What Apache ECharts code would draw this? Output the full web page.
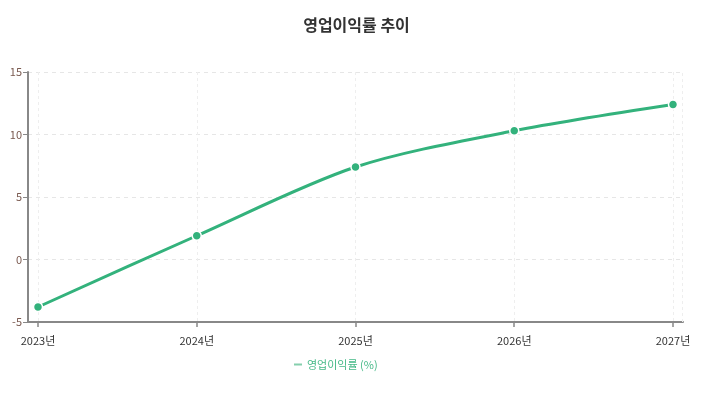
<!DOCTYPE html>
<html>
<head>
<meta charset="utf-8">
<script src="https://cdn.jsdelivr.net/npm/echarts@6/dist/echarts.min.js"></script>
<style>
  html, body { margin: 0; padding: 0; background: #fff; }
  #chart { width: 713px; height: 397px; }
</style>
</head>
<body>
<div id="chart"></div>
<script>
// 데이터
const years = ['2023년', '2024년', '2025년', '2026년', '2027년'];
const margin = [-3.8, 1.9, 7.4, 10.3, 12.4];
const seriesName = '영업이익률 (%)';

const pad = 0.063;
const green = '#33b27c';
const font = "'Noto Sans CJK KR', 'Noto Sans', sans-serif";

const chart = echarts.init(document.getElementById('chart'));

chart.setOption({
  backgroundColor: '#fff',
  animation: false,
  title: {
    text: '영업이익률 추이',
    left: 'center',
    top: 12,
    textStyle: { fontSize: 16, fontWeight: 'bold', color: '#333', fontFamily: font }
  },
  legend: {
    top: 354,
    left: 289,
    icon: 'rect',
    itemWidth: 8,
    itemHeight: 2,
    itemGap: 6,
    itemStyle: { color: '#85cfad', borderWidth: 0 },
    textStyle: { color: '#45b987', fontSize: 11, fontFamily: font },
    data: [seriesName]
  },
  grid: { left: 28, right: 30, top: 72, bottom: 75 },
  xAxis: {
    type: 'value',
    min: -pad,
    max: years.length - 1 + pad,
    axisLine: { onZero: false, lineStyle: { color: '#888', width: 2 } },
    axisTick: {
      customValues: years.map((_, i) => i),
      length: 5,
      lineStyle: { color: '#888', width: 1.5 }
    },
    axisLabel: {
      customValues: years.map((_, i) => i),
      formatter: v => years[Math.round(v)],
      color: '#333',
      fontSize: 11,
      fontFamily: font,
      margin: 13
    },
    splitLine: { show: true, lineStyle: { color: '#eee', type: [3, 3] } }
  },
  yAxis: {
    type: 'value',
    min: -5,
    max: 15,
    interval: 5,
    axisLine: { show: true, onZero: false, lineStyle: { color: '#888', width: 2 } },
    axisTick: { show: true, length: 5, lineStyle: { color: '#888' } },
    axisLabel: { color: '#7a5a50', fontSize: 11, fontFamily: font, margin: 6 },
    splitLine: { show: true, lineStyle: { color: '#e6e6e6', type: [4, 4] } }
  },
  series: [{
    name: seriesName,
    type: 'line',
    smooth: 0.3,
    data: margin.map((v, i) => [i, v]),
    symbol: 'circle',
    symbolSize: 9,
    itemStyle: { color: green, borderColor: '#fff', borderWidth: 1.5 },
    lineStyle: { color: green, width: 3 },
    markLine: {
      silent: true,
      symbol: 'none',
      label: { show: false },
      lineStyle: { color: '#eee', type: [3, 3], width: 1 },
      data: [{ xAxis: years.length - 1 + pad }]
    }
  }]
});
</script>
</body>
</html>
